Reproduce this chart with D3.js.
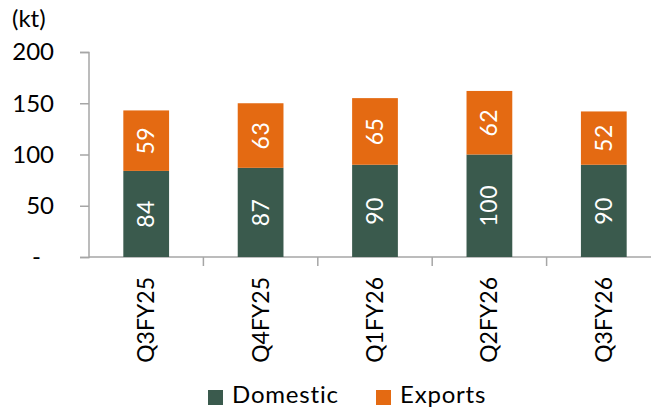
<!DOCTYPE html>
<html>
<head>
<meta charset="utf-8">
<script src="https://cdn.jsdelivr.net/npm/d3@7"></script>
<style>
  body { margin: 0; background: #fff; }
  svg { display: block; font-family: "Lato", "Open Sans", sans-serif; }
</style>
</head>
<body>
<div id="chart"></div>
<script>
// DATA
const quarters = ["Q3FY25", "Q4FY25", "Q1FY26", "Q2FY26", "Q3FY26"];
const domestic = [84, 87, 90, 100, 90];
const exportsVals = [59, 63, 65, 62, 52];
const yTicks = [0, 50, 100, 150, 200];
const seriesNames = ["Domestic", "Exports"];
const COLORS = ["#3a5a4d", "#e46a12"];

const W = 651, H = 409;

const svg = d3.select("#chart").append("svg")
  .attr("width", W)
  .attr("height", H);

// SCALES
const x = d3.scaleBand()
  .domain(quarters)
  .range([89, 661])
  .paddingInner(0.6)
  .paddingOuter(0.3);

const y = d3.scaleLinear()
  .domain([0, 200])
  .range([257, 52]);

// AXES
svg.append("g")
  .attr("transform", "translate(89,0)")
  .call(d3.axisLeft(y).tickValues(yTicks).tickSize(9).tickFormat(""))
  .call(g => {
    g.selectAll("line, path").attr("stroke", "#a6a6a6").attr("stroke-width", 1.5);
    g.select(".domain").attr("d", "M-9,52.5H0V257.5H-9");
  });

// y labels (accounting style: zero shown as a dash set further left)
svg.selectAll(".ylab")
  .data(yTicks)
  .enter()
  .append("text")
  .attr("x", d => d === 0 ? 41 : 54)
  .attr("y", d => y(d))
  .attr("dy", "0.35em")
  .attr("text-anchor", "end")
  .attr("font-size", "24px")
  .attr("fill", "#000")
  .text(d => d === 0 ? "-" : d);

// x axis line + separators
const step = x.step();
const xStart = x.range()[0];
svg.append("line")
  .attr("x1", xStart).attr("x2", W)
  .attr("y1", y(0)).attr("y2", y(0))
  .attr("stroke", "#a6a6a6").attr("stroke-width", 1.5);
svg.selectAll(".sep")
  .data(d3.range(1, quarters.length + 1))
  .enter()
  .append("line")
  .attr("x1", i => xStart + i * step)
  .attr("x2", i => xStart + i * step)
  .attr("y1", y(0))
  .attr("y2", y(0) + 9)
  .attr("stroke", "#a6a6a6").attr("stroke-width", 1.5);

// x labels
svg.selectAll(".xlab")
  .data(quarters)
  .enter()
  .append("text")
  .attr("transform", d => `translate(${x(d) + x.bandwidth() / 2 + 8}, 277) rotate(-90)`)
  .attr("text-anchor", "end")
  .attr("font-size", "23px")
  .attr("fill", "#000")
  .text(d => d);

// unit label
svg.append("text")
  .attr("x", 12).attr("y", 27)
  .attr("font-size", "24px")
  .text("(kt)");

// BARS
const rows = quarters.map((q, i) => ({ q, dom: domestic[i], exp: exportsVals[i] }));

svg.selectAll(".dom")
  .data(rows)
  .enter()
  .append("rect")
  .attr("x", d => x(d.q))
  .attr("width", x.bandwidth())
  .attr("y", d => y(d.dom))
  .attr("height", d => y(0) - y(d.dom))
  .attr("fill", COLORS[0]);

svg.selectAll(".exp")
  .data(rows)
  .enter()
  .append("rect")
  .attr("x", d => x(d.q))
  .attr("width", x.bandwidth())
  .attr("y", d => y(d.dom + d.exp))
  .attr("height", d => y(d.dom) - y(d.dom + d.exp))
  .attr("fill", COLORS[1]);

// value labels
function valueLabel(cls, getMid, getVal) {
  svg.selectAll(cls)
    .data(rows)
    .enter()
    .append("text")
    .attr("transform", d => `translate(${x(d.q) + x.bandwidth() / 2 + 8}, ${getMid(d)}) rotate(-90)`)
    .attr("text-anchor", "middle")
    .attr("font-size", "23px")
    .attr("letter-spacing", "0.5px")
    .attr("fill", "#fff")
    .text(getVal);
}
valueLabel(".domlab", d => y(d.dom / 2), d => d.dom);
valueLabel(".explab", d => y(d.dom + d.exp / 2), d => d.exp);

// LEGEND
const legend = svg.append("g");
const legX = [208, 376];
seriesNames.forEach((name, i) => {
  legend.append("rect")
    .attr("x", legX[i]).attr("y", 390)
    .attr("width", 15).attr("height", 15)
    .attr("fill", COLORS[i]);
  legend.append("text")
    .attr("x", legX[i] + 24).attr("y", 403)
    .attr("font-size", "24px")
    .attr("letter-spacing", "0.8px")
    .text(name);
});
</script>
</body>
</html>
